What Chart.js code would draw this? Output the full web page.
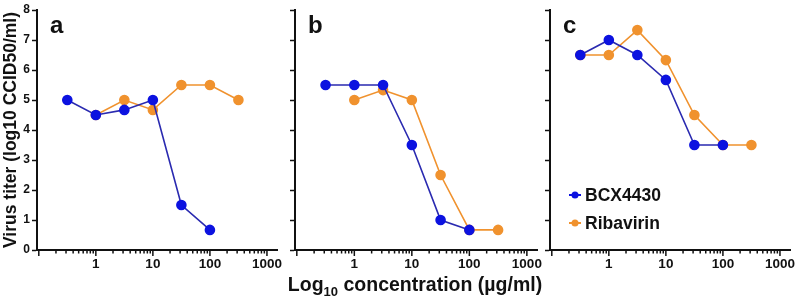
<!DOCTYPE html>
<html>
<head>
<meta charset="utf-8">
<script src="https://cdn.jsdelivr.net/npm/chart.js@4.4.0/dist/chart.umd.min.js"></script>
<style>
  body { margin: 0; background: #fff; }
  #wrap { position: relative; width: 800px; height: 299px; overflow: hidden; font-family: "Liberation Sans", Arial, sans-serif; }
  .panel { position: absolute; top: 0; height: 299px; }
  #xtitle { position: absolute; left: 0; width: 830px; top: 273px; text-align: center; font-weight: bold; font-size: 19.5px; color: #111; }
  #xtitle sub { font-size: 13px; }
</style>
</head>
<body>
<div id="wrap">
  <div class="panel" style="left:0;width:285px"><canvas id="chartA"></canvas></div>
  <div class="panel" style="left:260px;width:285px"><canvas id="chartB"></canvas></div>
  <div class="panel" style="left:520px;width:280px"><canvas id="chartC"></canvas></div>
  <div id="xtitle">Log<sub>10</sub> concentration (µg/ml)</div>
</div>
<script>
// concentrations (ug/ml)
const concBcx = [0.316, 1, 3.16, 10, 31.6, 100];
const concRiba = [1, 3.16, 10, 31.6, 100, 316];
const concRibaC = [0.316, 1, 3.16, 10, 31.6, 100, 316];

// virus titer, log10 CCID50/ml
const bcxA = [5, 4.5, 4.67, 5, 1.5, 0.67];
const ribaA = [4.5, 5, 4.67, 5.5, 5.5, 5];
const bcxB = [5.5, 5.5, 5.5, 3.5, 1, 0.67];
const ribaB = [5, 5.33, 5, 2.5, 0.67, 0.67];
const bcxC = [6.5, 7, 6.5, 5.67, 3.5, 3.5];
const ribaC = [6.5, 6.5, 7.33, 6.33, 4.5, 3.5, 3.5];

const seriesNames = ["BCX4430", "Ribavirin"];
const xLabels = [1, 10, 100, 1000];
const yTicks = [0, 1, 2, 3, 4, 5, 6, 7, 8];

const FONT = "'Liberation Sans', Arial, sans-serif";
const BLUE = "#0c12e0";
const BLUE_LINE = "#2a2ab0";
const ORANGE = "#f0922e";

// all log tick positions (minor + major)
const xTickVals = [];
[0.1, 1, 10, 100].forEach(d => {
  for (let k = 1; k <= 9; k++) xTickVals.push(d * k);
});
xTickVals.push(1000);

const toPoints = (xs, ys) => xs.map((x, i) => ({ x: x, y: ys[i] }));

const panelLabel = {
  id: "panelLabel",
  afterDraw(chart, args, opts) {
    const ctx = chart.ctx;
    ctx.save();
    ctx.font = "bold 24px " + FONT;
    ctx.fillStyle = "#111";
    ctx.textBaseline = "alphabetic";
    ctx.fillText(opts.text, chart.chartArea.left + opts.dx, 33);
    ctx.restore();
  }
};

const logTicks = {
  id: "logTicks",
  afterDraw(chart) {
    const sx = chart.scales.x;
    const ctx = chart.ctx;
    ctx.save();
    ctx.strokeStyle = "#111";
    ctx.lineWidth = 1.5;
    xTickVals.forEach(v => {
      const px = sx.getPixelForValue(v);
      if (px < sx.left || px > sx.right) return;
      const major = xLabels.includes(v) || v === 0.1;
      ctx.beginPath();
      ctx.moveTo(px, sx.top);
      ctx.lineTo(px, sx.top + (major ? 6 : 3.5));
      ctx.stroke();
    });
    ctx.restore();
  }
};

const innerLegend = {
  id: "innerLegend",
  afterDraw(chart, args, opts) {
    if (!opts.show) return;
    const ctx = chart.ctx;
    ctx.save();
    chart.data.datasets.forEach((ds, i) => {
      const y = opts.y + i * 28;
      ctx.strokeStyle = ds.pointBackgroundColor;
      ctx.lineWidth = 2;
      ctx.beginPath();
      ctx.moveTo(opts.x - 6, y);
      ctx.lineTo(opts.x + 6, y);
      ctx.stroke();
      ctx.fillStyle = ds.pointBackgroundColor;
      ctx.beginPath();
      ctx.arc(opts.x, y, 3.5, 0, Math.PI * 2);
      ctx.fill();
      ctx.fillStyle = "#111";
      ctx.font = "bold 17.5px " + FONT;
      ctx.textBaseline = "middle";
      ctx.fillText(ds.label, opts.x + 10, y + 1);
    });
    ctx.restore();
  }
};

function makeChart(id, bcx, riba, ribaX, opt) {
  const ctx = document.getElementById(id);
  return new Chart(ctx, {
    type: "line",
    data: {
      datasets: [
        {
          label: seriesNames[0],
          data: toPoints(concBcx, bcx),
          borderColor: BLUE_LINE,
          backgroundColor: BLUE,
          pointBackgroundColor: BLUE,
          pointBorderColor: BLUE,
          borderWidth: 1.6,
          pointRadius: 4.5,
          tension: 0
        },
        {
          label: seriesNames[1],
          data: toPoints(ribaX, riba),
          borderColor: ORANGE,
          backgroundColor: ORANGE,
          pointBackgroundColor: ORANGE,
          pointBorderColor: ORANGE,
          borderWidth: 1.6,
          pointRadius: 4.5,
          tension: 0
        }
      ]
    },
    options: {
      responsive: false,
      animation: false,
      layout: {
        padding: { left: 0, right: opt.padRight, top: 10, bottom: 0 }
      },
      plugins: {
        legend: { display: false },
        tooltip: { enabled: false },
        panelLabel: { text: opt.letter, dx: opt.letterDx },
        innerLegend: { show: !!opt.legend, x: 55, y: 195 }
      },
      scales: {
        x: {
          type: "logarithmic",
          min: 0.093,
          max: 1500,
          afterBuildTicks: scale => {
            scale.ticks = xTickVals.map(v => ({ value: v, major: xLabels.includes(v) }));
          },
          afterFit: scale => {
            scale.height = 49;
          },
          border: { color: "#111", width: 2 },
          grid: { drawOnChartArea: false, tickLength: 6, tickColor: "rgba(0,0,0,0)" },
          ticks: {
            autoSkip: false,
            maxRotation: 0,
            padding: 0,
            color: "#111",
            font: { family: FONT, size: 13.5, weight: "bold" },
            callback: v => (xLabels.includes(v) ? String(v) : "")
          }
        },
        y: {
          min: 0,
          max: 8,
          afterBuildTicks: scale => {
            scale.ticks = yTicks.map(v => ({ value: v }));
          },
          afterFit: scale => {
            scale.width = opt.yWidth;
          },
          border: { color: "#111", width: 2 },
          grid: { drawOnChartArea: false, tickLength: 5, tickColor: "#111", tickWidth: 1.5 },
          title: {
            display: opt.yTitle,
            text: "Virus titer (log10 CCID50/ml)",
            color: "#111",
            padding: { top: 1, bottom: 0 },
            font: { family: FONT, size: 17.5, weight: "bold" }
          },
          ticks: {
            padding: 2,
            color: "#111",
            font: { family: FONT, size: 12, weight: "bold" },
            callback: v => (opt.yTitle ? String(v) : "")
          }
        }
      }
    },
    plugins: [panelLabel, logTicks, innerLegend]
  });
}

function sizeCanvas(id, w) {
  const c = document.getElementById(id);
  c.width = w;
  c.height = 299;
  c.style.width = w + "px";
  c.style.height = "299px";
}
sizeCanvas("chartA", 285);
sizeCanvas("chartB", 285);
sizeCanvas("chartC", 280);

makeChart("chartA", bcxA, ribaA, concRiba, { letter: "a", letterDx: 13, padRight: 8, yWidth: 37, yTitle: true });
makeChart("chartB", bcxB, ribaB, concRiba, { letter: "b", letterDx: 13, padRight: 8, yWidth: 35, yTitle: false });
makeChart("chartC", bcxC, ribaC, concRibaC, { letter: "c", letterDx: 13, padRight: 10, yWidth: 30, yTitle: false, legend: true });
</script>
</body>
</html>
